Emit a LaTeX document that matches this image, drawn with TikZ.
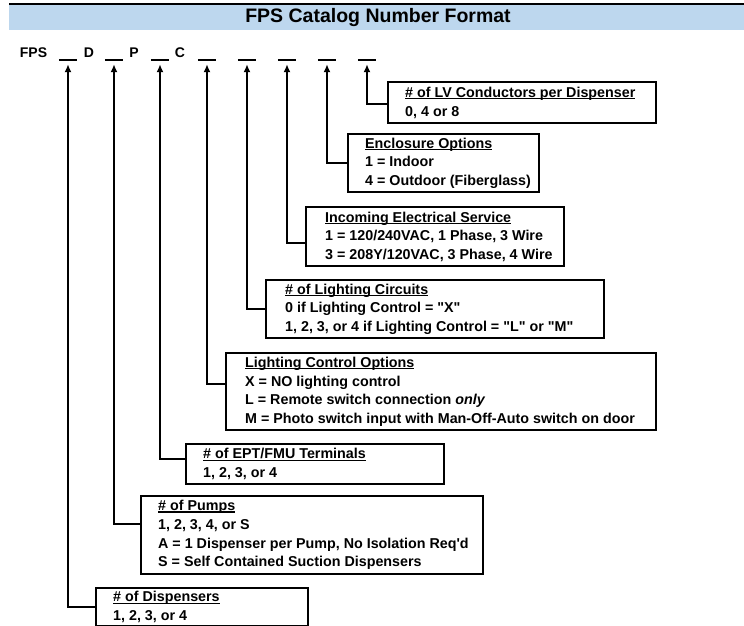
\documentclass[tikz,border=0pt]{standalone}
\usepackage{fontspec}
\setmainfont{Liberation Sans}
\usetikzlibrary{arrows.meta}
\definecolor{barblue}{RGB}{189,215,238}
\newcommand{\ulhead}[1]{\setbox0\hbox{#1}\rlap{\rule[-1.7pt]{\wd0}{1.1pt}}\box0}

\begin{document}
\begin{tikzpicture}[x=1pt,y=-1pt]
\useasboundingbox (0,0) rectangle (744,626);

  \tikzset{optbox/.style={draw, line width=2.4pt, anchor=north west, inner sep=0pt}}
  \tikzset{opttext/.style={anchor=west, inner sep=0pt, align=left, font=\fontsize{14.3}{18.7}\selectfont\bfseries}}
  \tikzset{slot/.style={inner sep=0pt, minimum width=18pt, minimum height=0pt}}
  \tikzset{conn/.style={line width=2pt, -{Latex[length=8pt,width=7pt]}, shorten >=4pt}}
  \tikzset{code/.style={inner sep=0pt, font=\fontsize{14}{14}\selectfont\bfseries}}

% title bar
\fill[barblue] (9,5) rectangle (744,30);
\draw[line width=1.5pt] (9,4) -- (744,4);
\node[font=\fontsize{19.5}{20}\selectfont\bfseries] (title) at (378,18) {FPS Catalog Number Format};

% catalog number
\node[code] (fps) at (33.5,53) {FPS};
\node[code] (d) at (89,53) {D};
\node[code] (p) at (134,53) {P};
\node[code] (c) at (180,53) {C};

\foreach \n/\x in {1/68,2/114,3/160,4/207,5/247,6/287,7/327,8/367}{
  \node[slot] (s\n) at (\x,60) {};
  \draw[line width=1.3pt] (s\n.west) -- (s\n.east);
}

% option boxes
\node[optbox, minimum width=268pt, minimum height=41pt] (lv) at (387,81) {};
\node[opttext] (lvt) at ([xshift=18pt]lv.west) {\ulhead{\# of LV Conductors per Dispenser}\\0, 4 or 8};

\node[optbox, minimum width=191pt, minimum height=58pt] (encl) at (347,133) {};
\node[opttext] (enclt) at ([xshift=18pt]encl.west) {\ulhead{Enclosure Options}\\1 = Indoor\\4 = Outdoor (Fiberglass)};

\node[optbox, minimum width=258pt, minimum height=59pt] (elec) at (305,206) {};
\node[opttext] (elect) at ([xshift=20pt]elec.west) {\ulhead{Incoming Electrical Service}\\1 = 120/240VAC, 1 Phase, 3 Wire\\3 = 208Y/120VAC, 3 Phase, 4 Wire};

\node[optbox, minimum width=338pt, minimum height=58pt] (lights) at (265,279) {};
\node[opttext] (lightst) at ([xshift=20pt]lights.west) {\ulhead{\# of Lighting Circuits}\\0 if Lighting Control = \textquotedbl X\textquotedbl\\1, 2, 3, or 4 if Lighting Control = \textquotedbl L\textquotedbl{} or \textquotedbl M\textquotedbl};

\node[optbox, minimum width=430pt, minimum height=77pt] (lctrl) at (225,352) {};
\node[opttext] (lctrlt) at ([xshift=20pt]lctrl.west) {\ulhead{Lighting Control Options}\\X = NO lighting control\\L = Remote switch connection \textit{only}\\M = Photo switch input with Man-Off-Auto switch on door};

\node[optbox, minimum width=258pt, minimum height=40pt] (ept) at (185,443) {};
\node[opttext] (eptt) at ([xshift=18pt]ept.west) {\ulhead{\# of EPT/FMU Terminals}\\1, 2, 3, or 4};

\node[optbox, minimum width=342pt, minimum height=78pt] (pumps) at (140,495) {};
\node[opttext] (pumpst) at ([xshift=18pt]pumps.west) {\ulhead{\# of Pumps}\\1, 2, 3, 4, or S\\A = 1 Dispenser per Pump, No Isolation Req\textquotesingle d\\S = Self Contained Suction Dispensers};

\node[optbox, minimum width=212pt, minimum height=38pt] (disp) at (95,587) {};
\node[opttext] (dispt) at ([xshift=18pt]disp.west) {\ulhead{\# of Dispensers}\\1, 2, 3, or 4};

% leaders
\draw[conn] ([yshift=-1.5pt]lv.west) -| (s8.south);
\draw[conn] (encl.west) -| (s7.south);
\draw[conn] ([yshift=-6.5pt]elec.west) -| (s6.south);
\draw[conn] (lights.west) -| (s5.south);
\draw[conn] ([yshift=7.5pt]lctrl.west) -| (s4.south);
\draw[conn] ([yshift=5pt]ept.west) -| (s3.south);
\draw[conn] ([yshift=11pt]pumps.west) -| (s2.south);
\draw[conn] (disp.west) -| (s1.south);

\end{tikzpicture}
\end{document}
